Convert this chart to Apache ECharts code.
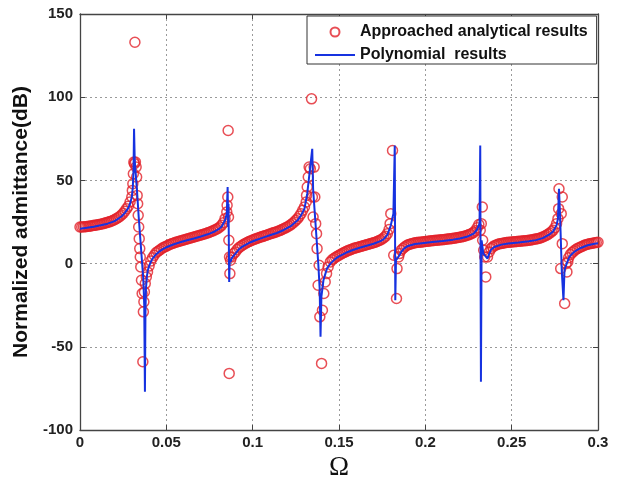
<!DOCTYPE html>
<html>
<head>
<meta charset="utf-8">
<script src="https://cdn.jsdelivr.net/npm/echarts@6/dist/echarts.min.js"></script>
<style>
html,body{margin:0;padding:0;background:#fff;}
#chart{width:619px;height:480px;}
</style>
</head>
<body>
<div id="chart"></div>
<script>
// Series names and tick settings
const seriesNames = ['Approached analytical results', 'Polynomial  results'];
const xTicks = [0, 0.05, 0.1, 0.15, 0.2, 0.25, 0.3];
const yTicks = [-100, -50, 0, 50, 100, 150];

// Approached analytical results: [Omega, admittance dB]
const analytical = [
  [0,22],[0.001,22],[0.002,22.1],[0.003,22.2],[0.004,22.3],[0.005,22.4],[0.006,22.6],[0.007,22.8],[0.008,23],[0.009,23.1],[0.010,23.3],[0.011,23.5],[0.012,23.7],[0.013,23.9],[0.014,24.2],[0.015,24.5],[0.016,24.8],[0.017,25.1],[0.018,25.5],[0.019,25.9],[0.020,26.4],[0.021,27],[0.022,27.6],[0.023,28.3],[0.024,29.2],[0.025,30.2],[0.026,31.5],[0.027,33],[0.028,34.5],[0.029,37],[0.030,40],
  [0.0303,44],[0.0306,48],[0.0309,54],[0.0312,61],[0.0315,60],[0.0318,133],[0.0321,61],[0.0325,58],[0.0328,52],[0.0331,41],[0.0334,36],[0.0337,29],[0.0340,22],[0.0343,15],[0.0346,9],[0.0349,4],[0.0352,-2],[0.0356,-10],[0.0360,-18],[0.0364,-59],[0.0367,-29],[0.0370,-23],[0.0373,-17],[0.0378,-12],[0.0384,-8],[0.0391,-5],
  [0.040,-1.5],[0.041,1.5],[0.042,3.5],[0.043,5],[0.044,6.5],[0.045,7.3],[0.046,8],[0.047,8.8],[0.048,9.5],[0.049,10],[0.050,10.5],[0.051,11],[0.052,11.5],[0.053,11.9],[0.054,12.3],[0.055,12.7],[0.056,13],[0.057,13.3],[0.058,13.6],[0.059,13.9],[0.060,14.2],[0.061,14.5],[0.062,14.8],[0.063,15.1],[0.064,15.4],[0.065,15.7],[0.066,16],[0.067,16.3],[0.068,16.6],[0.069,16.9],[0.070,17.2],[0.071,17.5],[0.072,17.8],[0.073,18.1],[0.074,18.5],[0.075,18.9],[0.076,19.3],[0.077,19.7],[0.078,20.2],[0.079,20.7],[0.080,21.3],[0.081,22],[0.082,23],[0.083,24.5],[0.084,27],[0.085,31],
  [0.0852,35],[0.0856,40],[0.0858,80],[0.0860,28],[0.0862,14],[0.0864,-66],[0.0866,4],[0.0868,-6],[0.0872,2],
  [0.0878,4],[0.089,6],[0.090,7],[0.091,8.5],[0.092,9.5],[0.093,10.3],[0.094,11],[0.095,11.7],[0.096,12.3],[0.097,12.8],[0.098,13.3],[0.099,13.8],[0.100,14.2],[0.101,14.6],[0.102,15],[0.103,15.4],[0.104,15.7],[0.105,16.1],[0.106,16.4],[0.107,16.8],[0.108,17.1],[0.109,17.5],[0.110,17.8],[0.111,18.2],[0.112,18.5],[0.113,18.9],[0.114,19.2],[0.115,19.6],[0.116,20],[0.117,20.5],[0.118,21],[0.119,21.5],[0.120,22],[0.121,22.6],[0.122,23.3],[0.123,24.1],[0.124,25],[0.125,26],[0.126,27],[0.127,28.4],[0.128,30],[0.129,32],[0.130,34],[0.131,37],
  [0.1312,41],[0.1316,46],[0.1322,52],[0.1327,58],[0.1334,57],[0.1341,99],[0.1346,40],[0.1350,28],[0.1356,58],[0.1360,40],[0.1365,24],[0.1370,18],[0.1373,9],[0.1379,-13],[0.1385,-1],[0.1389,-32],[0.1399,-60],[0.1404,-28],[0.1412,-18],[0.1420,-11],[0.1428,-6],[0.1437,-2],
  [0.145,1],[0.146,2.3],[0.147,3.1],[0.148,3.8],[0.149,4.4],[0.150,5],[0.151,5.6],[0.152,6.2],[0.153,6.7],[0.154,7.2],[0.155,7.7],[0.156,8.1],[0.157,8.5],[0.158,8.9],[0.159,9.3],[0.160,9.6],[0.161,9.9],[0.162,10.2],[0.163,10.5],[0.164,10.8],[0.165,11.1],[0.166,11.4],[0.167,11.7],[0.168,12],[0.169,12.3],[0.170,12.6],[0.171,12.9],[0.172,13.3],[0.173,13.7],[0.174,14.2],[0.175,14.8],[0.176,15.5],[0.177,16.5],[0.178,18],[0.179,20.5],
  [0.1796,24],[0.1800,30],[0.1810,68],[0.1817,5],[0.1833,-21],[0.1836,-3],
  [0.1845,4],[0.185,6],[0.186,8],[0.187,9.1],[0.188,10],[0.189,10.7],[0.190,11.3],[0.191,11.7],[0.192,12],[0.193,12.3],[0.194,12.5],[0.195,12.7],[0.196,12.8],[0.197,12.9],[0.198,13],[0.199,13.2],[0.200,13.3],[0.201,13.4],[0.202,13.5],[0.203,13.7],[0.204,13.8],[0.205,13.9],[0.206,14],[0.207,14.1],[0.208,14.2],[0.209,14.3],[0.210,14.4],[0.211,14.5],[0.212,14.6],[0.213,14.8],[0.214,14.9],[0.215,15],[0.216,15.2],[0.217,15.3],[0.218,15.5],[0.219,15.7],[0.220,15.9],[0.221,16.1],[0.222,16.3],[0.223,16.6],[0.224,16.9],[0.225,17.3],[0.226,17.7],[0.227,18.2],[0.228,18.8],[0.229,19.8],[0.230,21.5],[0.231,23.5],
  [0.2318,20],[0.2324,24],[0.2330,34],[0.2332,14],[0.2338,8],[0.2344,4],[0.2350,-8],
  [0.236,4],[0.237,7],[0.238,9],[0.239,10],[0.240,10.8],[0.241,11.2],[0.242,11.6],[0.243,11.9],[0.244,12.1],[0.245,12.3],[0.246,12.5],[0.247,12.7],[0.248,12.8],[0.249,12.9],[0.250,13],[0.251,13.1],[0.252,13.2],[0.253,13.3],[0.254,13.4],[0.255,13.5],[0.256,13.6],[0.257,13.7],[0.258,13.8],[0.259,13.9],[0.260,14.1],[0.261,14.2],[0.262,14.4],[0.263,14.6],[0.264,14.8],[0.265,15],[0.266,15.3],[0.267,15.6],[0.268,16],[0.269,16.5],[0.270,17],[0.271,17.6],[0.272,18.3],[0.273,19.1],[0.274,20],[0.275,21.5],[0.276,24],[0.2768,27],
  [0.2772,33],[0.2774,45],[0.2787,30],[0.2793,40],[0.2793,12],[0.2784,-3],[0.2807,-24],[0.2815,0],[0.2820,-5],
  [0.2825,1],[0.283,3.5],[0.284,5.5],[0.285,6.6],[0.286,7.5],[0.287,8.3],[0.288,9],[0.289,9.5],[0.290,10],[0.291,10.5],[0.292,11],[0.293,11.3],[0.294,11.6],[0.295,11.9],[0.296,12.1],[0.297,12.3],[0.298,12.5],[0.299,12.7],[0.300,12.8]
];

// Polynomial results: [Omega, admittance dB]
const polynomial = [
  [0,21],[0.004,21.5],[0.008,22.2],[0.012,23],[0.016,24],[0.020,25.5],[0.024,28.3],[0.026,30.5],[0.028,33.5],[0.029,36],[0.030,40],
  [0.0306,46],[0.0310,56],[0.0313,81],[0.0317,62],[0.0322,55],[0.0330,44],[0.0340,28],[0.0350,14],[0.0360,0],[0.0367,-10],[0.0372,-25],[0.0376,-77],[0.0379,-30],[0.0382,-15],[0.0387,-8],[0.0393,-4],
  [0.040,-1.5],[0.041,1],[0.042,3],[0.044,5.5],[0.046,7.3],[0.048,8.7],[0.050,9.8],[0.054,11.5],[0.058,12.8],[0.062,14],[0.066,15.1],[0.070,16.3],[0.074,17.6],[0.078,19.3],[0.080,20.5],[0.082,22.2],[0.084,26],
  [0.0850,30],[0.0855,46],[0.0858,22],[0.0860,36],[0.0864,-11],[0.0867,3],[0.0872,1],
  [0.088,3.5],[0.090,6],[0.092,8.6],[0.094,10.2],[0.098,12.5],[0.102,14.2],[0.106,15.6],[0.110,17],[0.114,18.4],[0.118,20.2],[0.122,22.5],[0.126,26],[0.128,29],[0.130,33],
  [0.1316,42],[0.1330,55],[0.1345,69],[0.1350,45],[0.1360,30],[0.1370,15],[0.1380,0],[0.1388,-15],[0.1393,-44],[0.1398,-20],[0.1410,-10],[0.1430,-3],
  [0.145,0],[0.148,3],[0.150,4.3],[0.154,6.5],[0.158,8.2],[0.162,9.5],[0.166,10.7],[0.170,11.9],[0.174,13.5],[0.176,14.8],[0.178,17.3],[0.180,23],
  [0.1815,30],[0.1823,71],[0.1826,-22],[0.1830,2],[0.1840,3],
  [0.185,5],[0.186,7],[0.188,9.3],[0.190,10.6],[0.194,11.8],[0.198,12.3],[0.204,13],[0.210,13.6],[0.216,14.4],[0.220,15.1],[0.224,16.1],[0.228,18],[0.230,20.5],
  [0.2314,24],[0.2318,71],[0.2322,-71],[0.2326,14],[0.2336,6],
  [0.236,3],[0.237,6],[0.238,8.3],[0.240,10],[0.244,11.4],[0.248,12.1],[0.254,12.7],[0.260,13.4],[0.264,14.1],[0.268,15.3],[0.272,17.6],[0.274,19.3],[0.276,23],
  [0.2768,27],[0.2774,45],[0.2780,30],[0.2786,10],[0.2790,-4],[0.2800,-22],[0.2806,-4],[0.2815,-1],
  [0.283,3],[0.284,4.8],[0.286,6.8],[0.288,8.3],[0.290,9.4],[0.294,11],[0.298,11.9],[0.300,12.2]
];

const chart = echarts.init(document.getElementById('chart'), null, {renderer: 'canvas'});
const axisColor = '#444';
const redColor = '#e2222a';
const blueColor = '#1632e0';
const labelStyle = {fontFamily: 'Liberation Sans', fontWeight: 'bold', fontSize: 15, color: '#222'};
const gridLine = {show: true, lineStyle: {type: [2, 3], color: '#9a9a9a', width: 1}};

function xAxisOf(pos, main) {
  return {
    type: 'value', position: pos, min: xTicks[0], max: xTicks[xTicks.length - 1],
    interval: xTicks[1] - xTicks[0],
    name: main ? 'Ω' : '', nameLocation: 'middle', nameGap: 23,
    nameTextStyle: {fontFamily: 'Liberation Serif', fontSize: 27, color: '#111'},
    axisLine: {show: true, onZero: false, lineStyle: {color: axisColor, width: 1.3}},
    axisTick: {show: true, inside: true, length: 5, lineStyle: {color: axisColor}},
    axisLabel: Object.assign({show: main, margin: 5}, labelStyle),
    splitLine: main ? gridLine : {show: false}
  };
}
function yAxisOf(pos, main) {
  return {
    type: 'value', position: pos, min: yTicks[0], max: yTicks[yTicks.length - 1],
    interval: yTicks[1] - yTicks[0],
    name: main ? 'Normalized admittance(dB)' : '', nameLocation: 'middle', nameGap: 40,
    nameTextStyle: {fontFamily: 'Liberation Sans', fontWeight: 'bold', fontSize: 21, color: '#111'},
    axisLine: {show: true, onZero: false, lineStyle: {color: axisColor, width: 1.3}},
    axisTick: {show: true, inside: true, length: 5, lineStyle: {color: axisColor}},
    axisLabel: Object.assign({show: main, margin: 7}, labelStyle),
    splitLine: main ? gridLine : {show: false}
  };
}

chart.setOption({
  animation: false,
  backgroundColor: '#fff',
  grid: {left: 80, right: 21, top: 14, bottom: 50, containLabel: false, outerBoundsMode: 'none'},
  legend: {
    orient: 'vertical', left: 307, top: 16,
    itemWidth: 40, itemHeight: 9, itemGap: 7,
    padding: [8, 9, 1, 8],
    borderColor: '#333', borderWidth: 1, backgroundColor: '#fff',
    textStyle: {fontFamily: 'Liberation Sans', fontWeight: 'bold', fontSize: 16, color: '#111'},
    data: [
      {name: seriesNames[0], icon: 'circle'},
      {name: seriesNames[1], icon: 'path://M0,0 L40,0 L40,2 L0,2 Z', itemStyle: {color: blueColor}}
    ]
  },
  xAxis: [xAxisOf('bottom', true), xAxisOf('top', false)],
  yAxis: [yAxisOf('left', true), yAxisOf('right', false)],
  series: [
    {
      name: seriesNames[0], type: 'scatter', data: analytical,
      symbol: 'circle', symbolSize: 10,
      itemStyle: {color: 'rgba(0,0,0,0)', borderColor: redColor, borderWidth: 1.5}
    },
    {
      name: seriesNames[1], type: 'line', data: polynomial,
      showSymbol: false, symbol: 'none', clip: true,
      lineStyle: {color: blueColor, width: 2},
      itemStyle: {color: blueColor}
    }
  ]
});
</script>
</body>
</html>
